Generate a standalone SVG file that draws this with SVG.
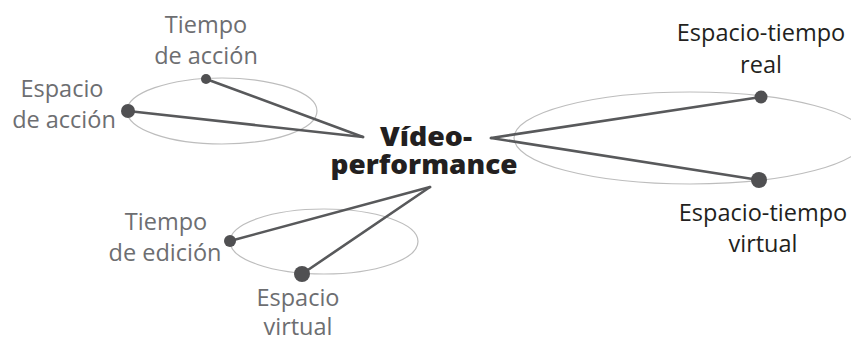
<svg xmlns="http://www.w3.org/2000/svg" width="851" height="338" viewBox="0 0 851 338">
  <style>
    .ring { fill: none; stroke: #bdbdbd; stroke-width: 1.2; }
    .link { stroke: #58595b; stroke-width: 2.6; stroke-linecap: round; fill: none; }
    .dot { fill: #505052; }
    .lbl { font-family: "Open Sans", "Noto Sans", sans-serif; font-size: 23.5px; text-anchor: middle; }
    .grey { fill: #6d6e71; }
    .dark { fill: #231f20; }
    .hub { font-family: "Open Sans", "Noto Sans", sans-serif; font-size: 26.5px; font-weight: 800; text-anchor: middle; fill: #231f20; }
  </style>

  <!-- orbits -->
  <ellipse class="ring" cx="222" cy="111" rx="95" ry="33"/>
  <ellipse class="ring" cx="690" cy="138" rx="176" ry="46"/>
  <ellipse class="ring" cx="324" cy="241.5" rx="94" ry="32.5"/>

  <g id="connectors">
    <line class="link" x1="363" y1="137" x2="206" y2="79"/>
    <line class="link" x1="363" y1="137" x2="128" y2="111"/>
    <line class="link" x1="491" y1="138" x2="761" y2="97"/>
    <line class="link" x1="491" y1="138" x2="759" y2="180"/>
    <line class="link" x1="430" y1="187" x2="230" y2="241"/>
    <line class="link" x1="430" y1="187" x2="302" y2="274"/>
  </g>

  <g id="videoperformance">
    <text class="hub" x="426" y="146" textLength="92" lengthAdjust="spacingAndGlyphs">Vídeo-</text>
    <text class="hub" x="424" y="174" textLength="187" lengthAdjust="spacingAndGlyphs">performance</text>
  </g>

  <g id="tiempo-accion">
    <circle class="dot" cx="206" cy="79" r="5"/>
    <text class="lbl grey" x="206" y="33">Tiempo</text>
    <text class="lbl grey" x="206" y="64">de acción</text>
  </g>

  <g id="espacio-accion">
    <circle class="dot" cx="128" cy="111" r="7"/>
    <text class="lbl grey" x="62" y="97">Espacio</text>
    <text class="lbl grey" x="64" y="128">de acción</text>
  </g>

  <g id="espacio-tiempo-real">
    <circle class="dot" cx="761" cy="97" r="6.5"/>
    <text class="lbl dark" x="761" y="41">Espacio-tiempo</text>
    <text class="lbl dark" x="761" y="73">real</text>
  </g>

  <g id="espacio-tiempo-virtual">
    <circle class="dot" cx="759" cy="180" r="8"/>
    <text class="lbl dark" x="763" y="221">Espacio-tiempo</text>
    <text class="lbl dark" x="763" y="252">virtual</text>
  </g>

  <g id="tiempo-edicion">
    <circle class="dot" cx="230" cy="241" r="6"/>
    <text class="lbl grey" x="166" y="230">Tiempo</text>
    <text class="lbl grey" x="165" y="261">de edición</text>
  </g>

  <g id="espacio-virtual">
    <circle class="dot" cx="302" cy="274" r="8"/>
    <text class="lbl grey" x="298" y="306">Espacio</text>
    <text class="lbl grey" x="298" y="335">virtual</text>
  </g>
</svg>
